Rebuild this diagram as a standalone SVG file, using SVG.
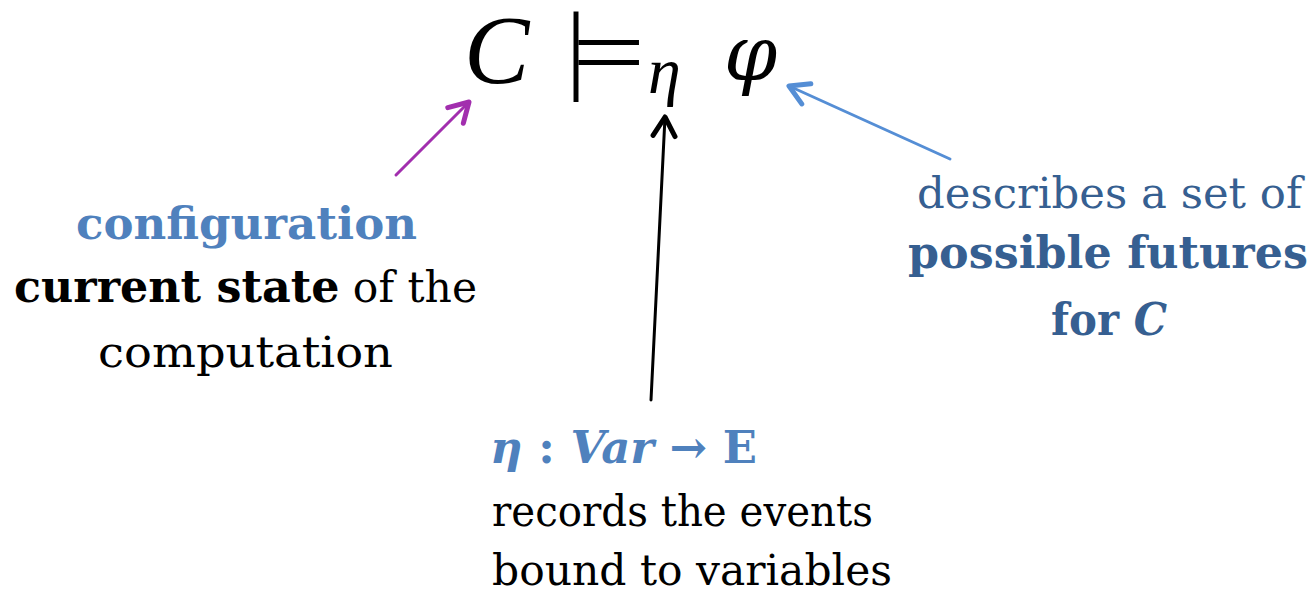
<svg xmlns="http://www.w3.org/2000/svg" width="1314" height="590" viewBox="0 0 1314 590">
<style>
.t{font-family:"DejaVu Serif",serif;font-size:43px}
.b{font-weight:bold;font-size:45px}
.i{font-style:italic}
.m{font-family:"Liberation Serif","DejaVu Serif",serif;font-style:italic;fill:#000}
.blue{fill:#4F81BD}
.dblue{fill:#365F91}
.blk{fill:#000}
</style>
<defs>
<marker id="hp" markerUnits="userSpaceOnUse" viewBox="-24 -14 28 28" markerWidth="28" markerHeight="28" refX="0" refY="0" orient="auto"><path d="M-19,-11 L0,0 L-19,11" fill="none" stroke="#A22EAE" stroke-width="5" stroke-linecap="round" stroke-linejoin="round"/></marker>
<marker id="hk" markerUnits="userSpaceOnUse" viewBox="-24 -14 28 28" markerWidth="28" markerHeight="28" refX="0" refY="0" orient="auto"><path d="M-19,-11 L0,0 L-19,11" fill="none" stroke="#000" stroke-width="5" stroke-linecap="round" stroke-linejoin="round"/></marker>
<marker id="hb" markerUnits="userSpaceOnUse" viewBox="-24 -14 28 28" markerWidth="28" markerHeight="28" refX="0" refY="0" orient="auto"><path d="M-19,-11 L0,0 L-19,11" fill="none" stroke="#558ED5" stroke-width="5" stroke-linecap="round" stroke-linejoin="round"/></marker>
</defs>
<rect width="1314" height="590" fill="#fff"/>
<g id="formula">
<text class="m" x="464" y="83" font-size="98">C</text>
<text x="566" y="81" font-family="Liberation Serif,serif" font-size="100" fill="#000">|</text>
<text transform="translate(576,86) scale(1.3,1)" x="-3" y="0" font-family="Liberation Serif,serif" font-size="100" fill="#000">=</text>
<text class="m" x="648" y="93" font-size="66">η</text>
<text x="724" y="80" font-family="DejaVu Serif,serif" font-style="italic" font-size="76" fill="#000">φ</text>
</g>
<g id="connectors" fill="none" stroke-linecap="round">
<line x1="396" y1="175" x2="469" y2="102" stroke="#A22EAE" stroke-width="3" marker-end="url(#hp)"/>
<line x1="651" y1="400" x2="665" y2="117" stroke="#000" stroke-width="3" marker-end="url(#hk)"/>
<line x1="950" y1="159" x2="789" y2="86" stroke="#558ED5" stroke-width="3" marker-end="url(#hb)"/>
</g>
<g id="config">
<text class="t b blue" x="76" y="239" textLength="341" lengthAdjust="spacingAndGlyphs">configuration</text>
<text class="t blk" x="14" y="302" textLength="463" lengthAdjust="spacingAndGlyphs"><tspan class="b">current state</tspan> of the</text>
<text class="t blk" x="98" y="367" textLength="295" lengthAdjust="spacingAndGlyphs">computation</text>
</g>
<g id="futures">
<text class="t dblue" x="917" y="208" textLength="385" lengthAdjust="spacingAndGlyphs">describes a set of</text>
<text class="t b dblue" x="908" y="268" textLength="400" lengthAdjust="spacingAndGlyphs">possible futures</text>
<text class="t b dblue" x="1051" y="335" textLength="116" lengthAdjust="spacingAndGlyphs">for <tspan class="i">C</tspan></text>
</g>
<g id="env">
<text class="t b blue" x="490" y="463" textLength="267" lengthAdjust="spacingAndGlyphs"><tspan class="i">η</tspan> : <tspan class="i">Var</tspan> → E</text>
<text class="t blk" x="492" y="526" textLength="381" lengthAdjust="spacingAndGlyphs">records the events</text>
<text class="t blk" x="492" y="585" textLength="400" lengthAdjust="spacingAndGlyphs">bound to variables</text>
</g>
</svg>
